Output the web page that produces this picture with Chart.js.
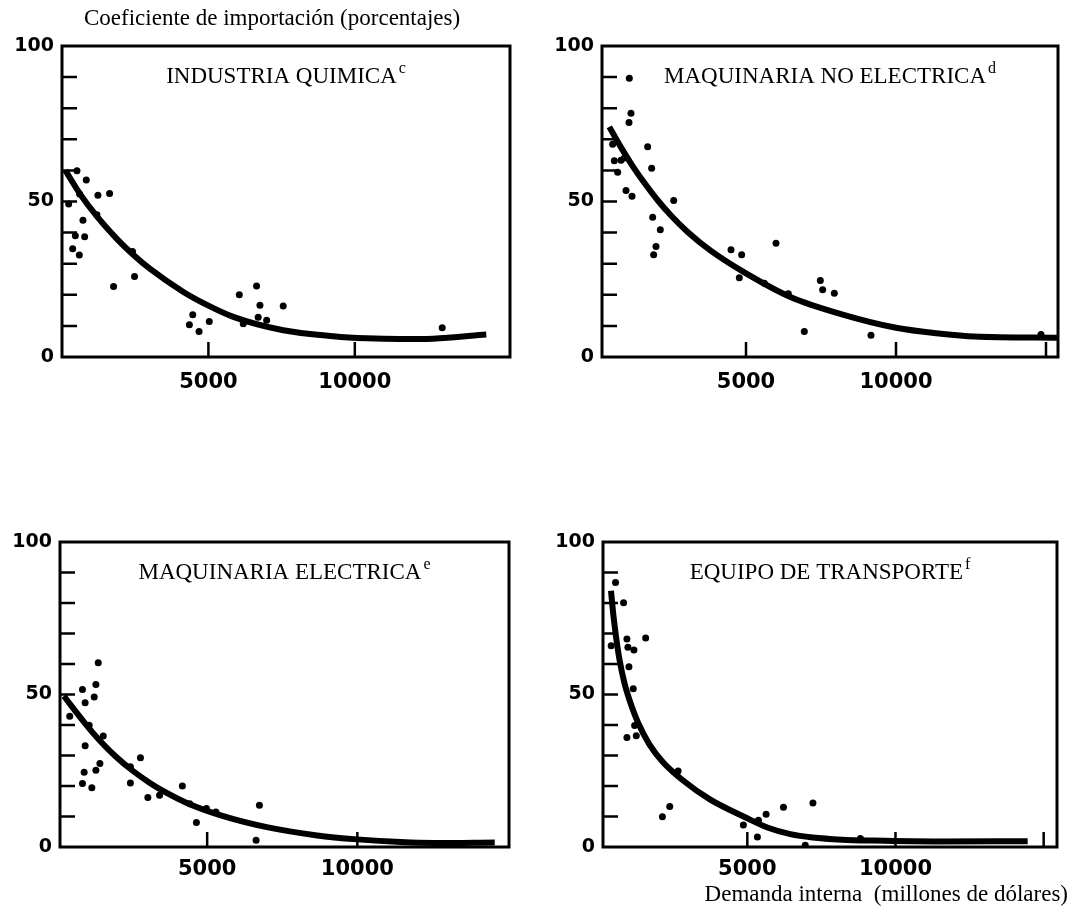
<!DOCTYPE html>
<html>
<head>
<meta charset="utf-8">
<script src="https://cdn.jsdelivr.net/npm/chart.js@4.4.1/dist/chart.umd.min.js"></script>
<style>
  body { margin: 0; background: #fff; }
  #page { position: relative; width: 1079px; height: 910px; overflow: hidden; background: #fff; }
  canvas { position: absolute; }
  .axisTitle { position: absolute; font-family: "Liberation Serif", serif; font-size: 23px; line-height: 26px; color: #000; white-space: pre; z-index: 2; }
</style>
</head>
<body>
<div id="page">
  <div class="axisTitle" id="yTitle" style="left:84px; top:5px;">Coeficiente de importación (porcentajes)</div>
  <div class="axisTitle" id="xTitle" style="right:11px; top:881px;">Demanda interna  (millones de dólares)</div>
  <canvas id="quimica" width="540" height="400" style="left:0; top:0;"></canvas>
  <canvas id="noElectrica" width="539" height="400" style="left:540px; top:0;"></canvas>
  <canvas id="electrica" width="540" height="410" style="left:0; top:500px;"></canvas>
  <canvas id="transporte" width="539" height="410" style="left:540px; top:500px;"></canvas>
</div>
<script>
// etiquetas de los ejes
const yLabels = [0, 50, 100];
const xLabels = [5000, 10000];

// Industria quimica: puntos observados y curva ajustada
const quimicaX = [511, 830, 602, 1227, 1625, 227, 716, 1193, 455, 773, 364, 591, 2409, 2477, 1761, 4465, 4350, 4680, 5030, 6055, 6645, 6760, 7555, 6190, 6700, 6990, 12985];
const quimicaY = [59.9, 56.9, 52.4, 52.0, 52.6, 49.2, 44.0, 45.7, 39.0, 38.7, 34.8, 32.8, 33.9, 25.9, 22.7, 13.6, 10.4, 8.2, 11.4, 20.0, 22.8, 16.6, 16.4, 10.7, 12.8, 11.8, 9.4];
const quimicaCurveX = [114, 625, 1193, 1874, 2442, 3010, 4146, 5000, 5850, 7555, 9260, 10400, 11530, 12670, 14490];
const quimicaCurveY = [60.0, 52.3, 45.2, 38.0, 32.8, 28.3, 20.9, 16.5, 12.9, 8.6, 6.7, 6.0, 5.75, 5.9, 7.2];

// Maquinaria no electrica
const noElecX = [1111, 1166, 1100, 555, 1722, 833, 611, 1855, 722, 1000, 1200, 2589, 1889, 2144, 2000, 1922, 4500, 4855, 6000, 4777, 5611, 6411, 7478, 7555, 7944, 6944, 9166, 14833, 944];
const noElecY = [89.6, 78.4, 75.4, 68.4, 67.6, 63.3, 63.1, 60.7, 59.4, 53.5, 51.7, 50.3, 44.9, 40.9, 35.5, 32.9, 34.5, 32.9, 36.6, 25.5, 23.7, 20.3, 24.6, 21.6, 20.5, 8.2, 7.0, 7.2, 64.0];
const noElecCurveX = [444, 833, 1222, 1611, 2055, 2500, 3055, 3833, 4944, 6500, 8166, 10000, 11500, 12610, 15444];
const noElecCurveY = [74.0, 67.4, 61.4, 56.0, 50.4, 45.5, 40.2, 34.1, 27.2, 19.2, 13.8, 9.4, 7.5, 6.6, 6.2];

// Maquinaria electrica
const elecX = [1373, 1295, 848, 1239, 937, 424, 1071, 1540, 937, 2779, 1428, 1295, 904, 848, 1160, 2444, 2444, 3024, 4174, 3415, 4642, 4977, 5290, 6740, 6629, 4420];
const elecY = [60.4, 53.3, 51.6, 49.2, 47.3, 42.9, 39.9, 36.4, 33.2, 29.3, 27.4, 25.2, 24.5, 20.8, 19.4, 26.3, 21.0, 16.2, 20.0, 17.0, 8.0, 12.6, 11.5, 13.7, 2.2, 14.2];
const elecCurveX = [230, 625, 960, 1406, 1964, 2522, 3080, 3638, 4419, 5535, 6986, 8660, 10000, 11450, 12566, 14575];
const elecCurveY = [49.5, 44.4, 40.2, 35.1, 29.6, 25.0, 21.1, 17.8, 14.0, 10.1, 6.5, 3.8, 2.5, 1.6, 1.3, 1.5];

// Equipo de transporte
const transX = [553, 824, 937, 971, 1570, 1174, 1005, 406, 1150, 1197, 937, 1253, 2664, 2382, 2134, 4866, 5374, 5634, 5340, 6220, 7214, 6955, 8817];
const transY = [86.7, 80.1, 68.2, 65.5, 68.5, 64.6, 59.1, 66.0, 51.9, 39.8, 35.9, 36.5, 24.9, 13.3, 9.9, 7.2, 8.8, 10.7, 3.3, 13.0, 14.4, 0.6, 2.8];
const transCurveX = [400, 480, 576, 689, 858, 1027, 1310, 1705, 2156, 2834, 3737, 4980, 5700, 6450, 7200, 8200, 9270, 11527, 14460];
const transCurveY = [84.0, 76.0, 68.5, 61.3, 53.6, 48.1, 40.8, 33.5, 27.8, 21.8, 15.6, 9.5, 6.3, 4.2, 3.1, 2.4, 2.1, 1.8, 1.9];

function toPoints(xs, ys) {
    return xs.map((x, i) => ({ x: x, y: ys[i] }));
}

// marco, marcas hacia adentro y titulo del panel
const framePlugin = {
    id: 'frame',
    afterDraw(chart, args, opts) {
        const { ctx, chartArea: a, scales } = chart;
        ctx.save();
        ctx.strokeStyle = '#000';
        ctx.lineWidth = 3;
        ctx.strokeRect(a.left, a.top, a.width, a.height);
        ctx.lineWidth = 2.5;
        ctx.beginPath();
        for (let v = 10; v < 100; v += 10) {
            const y = scales.y.getPixelForValue(v);
            ctx.moveTo(a.left, y);
            ctx.lineTo(a.left + 15, y);
        }
        opts.xMarks.forEach(v => {
            const x = scales.x.getPixelForValue(v);
            ctx.moveTo(x, a.bottom);
            ctx.lineTo(x, a.bottom - 15);
        });
        ctx.stroke();

        // titulo con superindice
        ctx.fillStyle = '#000';
        ctx.textBaseline = 'alphabetic';
        const mainFont = '23px "Liberation Serif"';
        const supFont = '16px "Liberation Serif"';
        ctx.font = mainFont;
        const w1 = ctx.measureText(opts.title).width;
        ctx.font = supFont;
        const w2 = ctx.measureText(opts.sup).width;
        const x0 = (a.left + a.right) / 2 - (w1 + w2 + 2) / 2;
        const base = a.top + 37;
        ctx.font = mainFont;
        ctx.fillText(opts.title, x0, base);
        ctx.font = supFont;
        ctx.fillText(opts.sup, x0 + w1 + 2, base - 10);
        ctx.restore();
    }
};

function makePanel(id, title, sup, points, curve, xMin, xMax, xMarks, padRight, padTop, yWidth, xHeight, xPad) {
    new Chart(document.getElementById(id), {
        type: 'scatter',
        data: {
            datasets: [
                {
                    data: curve,
                    showLine: true,
                    borderColor: '#000',
                    borderWidth: 6,
                    pointRadius: 0,
                    cubicInterpolationMode: 'monotone',
                    order: 2
                },
                {
                    data: points,
                    pointRadius: 3.5,
                    backgroundColor: '#000',
                    borderWidth: 0,
                    order: 1
                }
            ]
        },
        options: {
            responsive: false,
            animation: false,
            layout: { padding: { left: 0, right: padRight, top: padTop, bottom: 0 } },
            plugins: {
                legend: { display: false },
                tooltip: { enabled: false },
                frame: { title: title, sup: sup, xMarks: xMarks }
            },
            scales: {
                x: {
                    type: 'linear',
                    min: xMin,
                    max: xMax,
                    afterBuildTicks: s => { s.ticks = xLabels.map(v => ({ value: v })); },
                    afterFit: s => { s.height = xHeight; },
                    grid: { display: false },
                    border: { display: false },
                    ticks: {
                        color: '#000',
                        padding: xPad,
                        maxRotation: 0,
                        callback: v => String(v),
                        font: { family: 'DejaVu Sans', size: 21, weight: 'bold' }
                    }
                },
                y: {
                    min: 0,
                    max: 100,
                    afterBuildTicks: s => { s.ticks = yLabels.map(v => ({ value: v })); },
                    afterFit: s => { s.width = yWidth; },
                    grid: { display: false },
                    border: { display: false },
                    ticks: {
                        color: '#000',
                        padding: 0,
                        callback: v => String(v),
                        font: { family: 'DejaVu Sans', size: 19, weight: 'bold' }
                    }
                }
            }
        },
        plugins: [framePlugin]
    });
}

makePanel('quimica', 'INDUSTRIA QUIMICA', 'c',
    toPoints(quimicaX, quimicaY), toPoints(quimicaCurveX, quimicaCurveY),
    0, 15300, [5000, 10000], 30, 46, 62, 43, 5);
makePanel('noElectrica', 'MAQUINARIA NO ELECTRICA', 'd',
    toPoints(noElecX, noElecY), toPoints(noElecCurveX, noElecCurveY),
    200, 15400, [5000, 10000, 15000], 21, 46, 62, 43, 5);
makePanel('electrica', 'MAQUINARIA ELECTRICA', 'e',
    toPoints(elecX, elecY), toPoints(elecCurveX, elecCurveY),
    100, 15050, [5000, 10000], 31, 42, 60, 63, 2);
makePanel('transporte', 'EQUIPO DE TRANSPORTE', 'f',
    toPoints(transX, transY), toPoints(transCurveX, transCurveY),
    130, 15450, [5000, 10000, 15000], 22, 42, 63, 63, 2);
</script>
</body>
</html>
